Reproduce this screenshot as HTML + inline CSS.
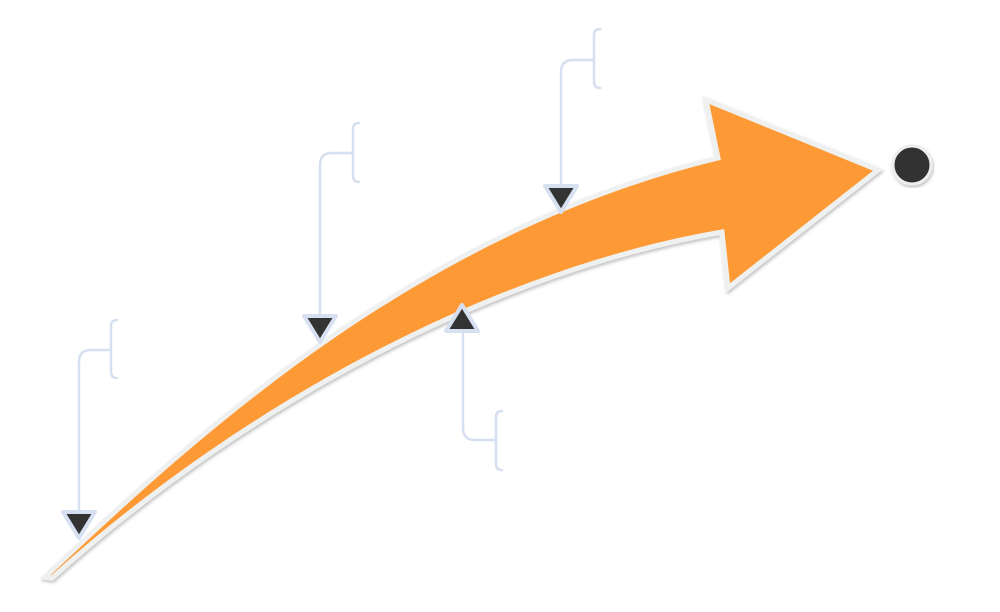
<!DOCTYPE html>
<html><head><meta charset="utf-8"><style>html,body{margin:0;padding:0;background:#fff;width:1000px;height:612px;overflow:hidden}</style></head>
<body>
<svg width="1000" height="612" viewBox="0 0 1000 612" xmlns="http://www.w3.org/2000/svg">
<defs>
<filter id="sh" x="-10%" y="-10%" width="120%" height="120%"><feDropShadow dx="1" dy="2" stdDeviation="1.5" flood-color="#000" flood-opacity="0.25"/></filter>
</defs>
<g fill="none" stroke="#d7e0f0" stroke-width="2.5" stroke-linecap="round">
<path d="M79,515 V362 Q79,350 91,350 H110 M117,320 Q111,320 111,326 V372 Q111,378 117,378"/>
<path d="M320,320 V165 Q320,153 332,153 H352 M359,123 Q353,123 353,129 V176 Q353,182 359,182"/>
<path d="M561,190 V72 Q561,60 573,60 H593 M600,29 Q594,29 594,35 V82 Q594,88 600,88"/>
<path d="M463,330 V428 Q463,440 475,440 H495 M502,411 Q496,411 496,417 V464 Q496,470 502,470"/>
</g>
<path filter="url(#sh)" d="M45,577 C200,430 420,230 718,158 L706,100 L878,170 L728,288 L722,232 C500,270 250,400 52,578 Z" fill="#fe9a35" stroke="#eff1f0" stroke-width="5" stroke-linejoin="miter"/>
<g fill="#333" stroke="#d7e0f0" stroke-width="4" stroke-linejoin="round">
<path d="M63,512 H95 L79,538 Z"/>
<path d="M304,316 H336 L320,342 Z"/>
<path d="M545,186 H577 L561,212 Z"/>
<path d="M446,331 H478 L462,305 Z"/>
</g>
<circle cx="912" cy="165" r="19" fill="#333" stroke="#eee" stroke-width="3" filter="url(#sh)"/>
</svg>
</body></html>
